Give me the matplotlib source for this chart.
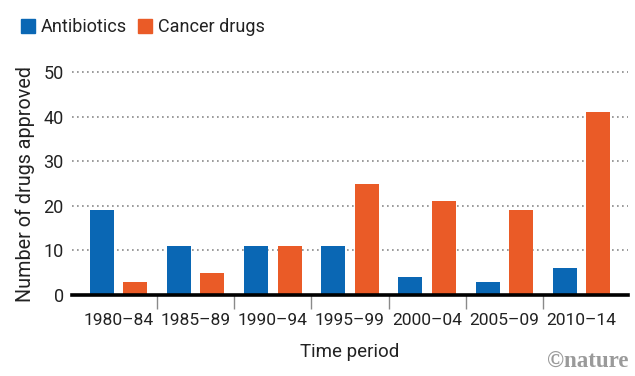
import matplotlib
matplotlib.use("Agg")
import matplotlib.pyplot as plt
import numpy as np
from matplotlib.patches import Patch

periods = ["1980–84", "1985–89", "1990–94", "1995–99", "2000–04", "2005–09", "2010–14"]
antibiotics = [19, 11, 11, 11, 4, 3, 6]
cancer_drugs = [3, 5, 11, 25, 21, 19, 41]
y_ticks = [0, 10, 20, 30, 40, 50]

BLUE = "#0a67b4"
ORANGE = "#ea5b27"

plt.rcParams["font.family"] = ["Roboto", "DejaVu Sans"]

fig = plt.figure(figsize=(6.35, 3.76), dpi=100)
ax = fig.add_axes([72 / 635, (376 - 295) / 376, (628 - 72) / 635, (295 - 72) / 376])

x = np.arange(len(periods))
w = 0.31
off = 0.217
ax.bar(x - off, antibiotics, w, color=BLUE, zorder=3)
ax.bar(x + off, cancer_drugs, w, color=ORANGE, zorder=3)

ax.set_xlim(-0.6, 6.6)
ax.set_ylim(0, 50)

for t in y_ticks[1:]:
    ax.axhline(t, color="#8a8a8a", lw=1.2, ls=(0, (1, 2)), zorder=1, clip_on=False)
ax.axhline(0, color="black", lw=2.6, zorder=4, clip_on=False)

for s in ax.spines.values():
    s.set_visible(False)

ax.set_yticks(y_ticks)
ax.set_yticklabels([str(t) for t in y_ticks])
ax.tick_params(axis="y", length=0, pad=6, labelsize=13, colors="#222222")

ax.set_xticks(x)
ax.set_xticklabels(periods)
ax.set_xticks(np.arange(0.5, len(periods) - 1, 1.0), minor=True)
ax.tick_params(axis="x", which="major", length=0, pad=13, labelsize=12.5, colors="#222222")
ax.tick_params(axis="x", which="minor", length=10, width=1, color="#8a8a8a", direction="out")

ax.set_xlabel("Time period", fontsize=13.5, color="#222222", labelpad=11)
ax.set_ylabel("Number of drugs approved", fontsize=14.2, color="#222222")
ax.yaxis.set_label_coords(-0.066, 0.5)

handles = [Patch(color=BLUE, label="Antibiotics"), Patch(color=ORANGE, label="Cancer drugs")]
fig.legend(handles=handles, loc="upper left", bbox_to_anchor=(0.013, 0.985), ncol=2,
           frameon=False, fontsize=13, handlelength=0.8, handleheight=0.8,
           handletextpad=0.3, columnspacing=0.6, borderaxespad=0.3,
           labelcolor="#222222")

fig.text(0.99, 0.008, "©nature", ha="right", va="bottom", fontsize=16.5,
         color="#9a9a9a", fontweight="bold", family=["Liberation Serif", "DejaVu Serif"])

fig.savefig("out.png", dpi=100)
